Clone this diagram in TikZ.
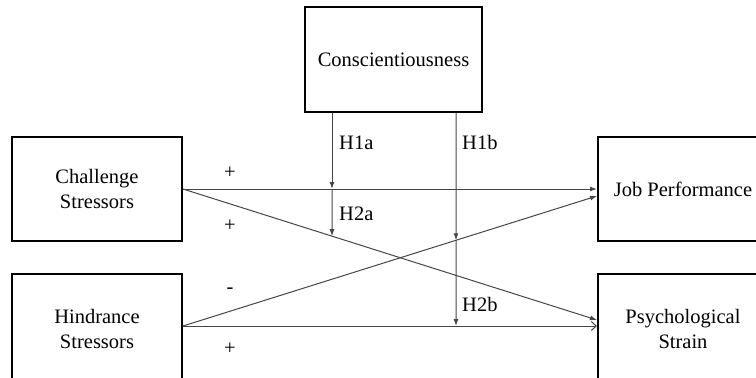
\documentclass[tikz,border=0pt]{standalone}
\usepackage{fontspec}
\setmainfont{Liberation Serif}
\usetikzlibrary{arrows.meta}

\begin{document}
\begin{tikzpicture}[
  x=1pt, y=-1pt,
  every node/.style={font=\fontsize{20.5}{25}\selectfont},
  varbox/.style={draw=black, line width=2pt, minimum width=170pt,
    minimum height=104pt, align=center, inner sep=0pt},
  conn/.style={draw=linegray, line width=1pt,
    -{Latex[length=7pt,width=5pt]}},
  openconn/.style={draw=linegray, line width=1pt,
    -{Straight Barb[length=5pt,width=9pt]}},
  hyplabel/.style={anchor=west, inner sep=1pt},
  signlabel/.style={inner sep=1pt},
]

\definecolor{linegray}{RGB}{70,70,70}

% ============================================================
% CANVAS (boxes on the right and bottom run past the edge)
% ============================================================
\useasboundingbox (0,0) rectangle (756,378);
\clip (0,0) rectangle (756,378);

% ============================================================
% VARIABLES
% ============================================================
\node[varbox, minimum width=177pt, minimum height=105pt]
  (conscient) at (393.5,59.5) {Conscientiousness};
\node[varbox] (challenge) at (97,189) {Challenge\\Stressors};
\node[varbox, minimum height=110pt] (hindrance) at (97,329) {Hindrance\\Stressors};
\node[varbox] (jobperf) at (683,189) {Job Performance};
\node[varbox, minimum height=110pt] (strain) at (683,329) {Psychological\\Strain};

% arrow ends that sit off the west anchors
\coordinate (hindout) at ([yshift=3pt]hindrance.east);
\coordinate (strainin) at ([yshift=3pt]strain.west);
\coordinate (strainhi) at ([yshift=9pt]strain.west);
\coordinate (jobperflo) at ([yshift=-7pt]jobperf.west);

% ============================================================
% MAIN EFFECTS
% ============================================================
\draw[conn] (challenge.east) -- (jobperf.west);
\draw[conn] (challenge.east) -- (strainhi);
\draw[conn] (hindout) -- (jobperflo);
\draw[openconn] (hindout) -- (strainin);

% ============================================================
% MODERATION (Conscientiousness)
% ============================================================
\coordinate (modatop) at ([xshift=-61.5pt]conscient.south);
\coordinate (modabot) at ([xshift=-61.5pt,yshift=-300pt]conscient.south);
\coordinate (modbtop) at ([xshift=62.5pt]conscient.south);
\coordinate (modbbot) at ([xshift=62.5pt,yshift=-300pt]conscient.south);

\coordinate (h1a) at (intersection of modatop--modabot and challenge.east--jobperf.west);
\coordinate (h2a) at (intersection of modatop--modabot and challenge.east--strainhi);
\coordinate (h1b) at (intersection of modbtop--modbbot and hindout--jobperflo);
\coordinate (h2b) at (intersection of modbtop--modbbot and hindout--strainin);

\draw[conn] (modatop) -- (h1a);
\draw[conn] (h1a) -- (h2a);
\draw[conn] (modbtop) -- (h1b);
\draw[conn] (h1b) -- (h2b);

% ============================================================
% LABELS
% ============================================================
\node[hyplabel] (labh1a) at (338,143) {H1a};
\node[hyplabel] (labh2a) at (338,214) {H2a};
\node[hyplabel] (labh1b) at (461,142) {H1b};
\node[hyplabel] (labh2b) at (461,304) {H2b};

\node[signlabel] (signcj) at (230,173) {+};
\node[signlabel] (signcs) at (230,226) {+};
\node[signlabel] (signhj) at (230,291) {-};
\node[signlabel] (signhs) at (230,349) {+};

\end{tikzpicture}
\end{document}
